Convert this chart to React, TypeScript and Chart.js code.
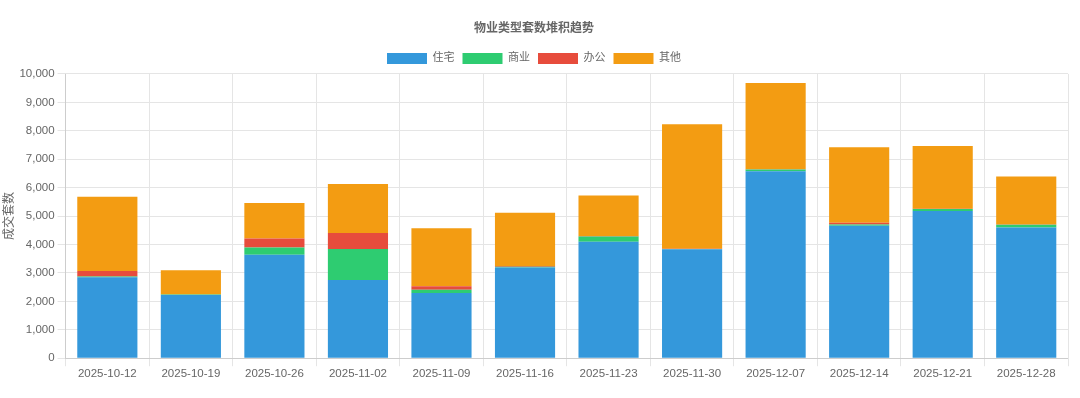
import React, { useEffect, useRef } from "react";
import { Chart, registerables } from "chart.js";

Chart.register(...registerables);

const categories = [
  "2025-10-12", "2025-10-19", "2025-10-26", "2025-11-02", "2025-11-09", "2025-11-16",
  "2025-11-23", "2025-11-30", "2025-12-07", "2025-12-14", "2025-12-21", "2025-12-28",
];
const residential = [2850, 2220, 3640, 2750, 2290, 3190, 4100, 3830, 6580, 4660, 5180, 4600];
const commercial = [20, 20, 250, 1090, 120, 25, 180, 10, 60, 40, 70, 90];
const office = [200, 10, 320, 560, 120, 30, 20, 10, 10, 60, 10, 10];
const other = [2610, 840, 1250, 1730, 2040, 1875, 1420, 4380, 3030, 2660, 2200, 1690];

const seriesNames = ["住宅", "商业", "办公", "其他"];
const colors = ["#3498db", "#2ecc71", "#e74c3c", "#f39c12"];

export default function App() {
  const ref = useRef<HTMLCanvasElement | null>(null);
  useEffect(() => {
    if (!ref.current) return;
    const font = "'Liberation Sans', 'Noto Sans CJK SC', sans-serif";
    Chart.defaults.font.family = font;
    Chart.defaults.color = "#666";
    const chart = new Chart(ref.current, {
      type: "bar",
      data: {
        labels: categories,
        datasets: [residential, commercial, office, other].map((d, i) => ({
          label: seriesNames[i],
          data: d,
          backgroundColor: colors[i],
          borderWidth: 0,
        })),
      },
      options: {
        responsive: true,
        maintainAspectRatio: false,
        animation: false,
        layout: { padding: { top: 10, left: 0, right: 12, bottom: 16 } },
        plugins: {
          title: {
            display: true,
            text: "物业类型套数堆积趋势",
            font: { size: 12, weight: "bold", family: font },
            color: "#666",
            padding: { top: 11, bottom: 9.5 },
          },
          legend: {
            position: "top",
            labels: { boxWidth: 40, boxHeight: 11, padding: 8, font: { size: 11 }, color: "#666" },
          },
          tooltip: { enabled: false },
        },
        scales: {
          x: {
            stacked: true,
            grid: { color: "#e5e5e5" },
            ticks: { color: "#666", font: { size: 11.5 }, maxRotation: 0, padding: 1 },
          },
          y: {
            stacked: true,
            min: 0,
            max: 10000,
            ticks: { stepSize: 1000, color: "#666", font: { size: 11.5 } },
            grid: { color: "#e5e5e5" },
            title: {
              display: true,
              text: "成交套数",
              color: "#666",
              font: { size: 12 },
              padding: { top: 2, bottom: 0 },
            },
          },
        },
      },
    });
    return () => chart.destroy();
  }, []);
  return (
    <div style={{ position: "fixed", left: 0, top: 0, width: 1080, height: 398 }}>
      <canvas ref={ref} />
    </div>
  );
}
